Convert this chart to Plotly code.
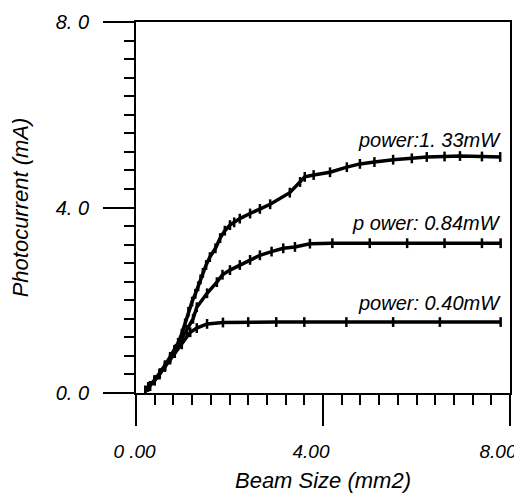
import plotly.graph_objects as go

# Beam size (mm2) and photocurrent (mA)
x_133 = [0.20, 0.26, 0.40, 0.51, 0.62, 0.73, 0.82, 0.90, 0.98, 1.05, 1.12, 1.20, 1.27, 1.33,
         1.38, 1.43, 1.50, 1.58, 1.70, 1.80, 1.90, 2.01, 2.10, 2.22, 2.44, 2.65, 2.87, 3.29,
         3.51, 3.61, 3.80, 4.15, 4.51, 4.79, 5.10, 5.50, 5.90, 6.22, 6.60, 6.93, 7.40, 7.79]
y_133 = [0.05, 0.13, 0.28, 0.43, 0.60, 0.78, 0.93, 1.08, 1.28, 1.50, 1.75, 1.97, 2.14, 2.30,
         2.45, 2.59, 2.76, 2.93, 3.12, 3.34, 3.50, 3.62, 3.68, 3.76, 3.87, 3.97, 4.07, 4.32,
         4.55, 4.66, 4.70, 4.76, 4.87, 4.94, 4.98, 5.03, 5.06, 5.09, 5.10, 5.11, 5.10, 5.09]

x_084 = [0.20, 0.30, 0.40, 0.50, 0.62, 0.73, 0.85, 0.95, 1.09, 1.22, 1.30, 1.52, 1.73, 1.85,
         2.01, 2.22, 2.44, 2.65, 2.90, 3.15, 3.40, 3.72, 4.20, 5.00, 5.80, 6.60, 7.40, 7.80]
y_084 = [0.05, 0.15, 0.27, 0.40, 0.58, 0.76, 0.95, 1.12, 1.36, 1.60, 1.85, 2.15, 2.39, 2.55,
         2.65, 2.76, 2.87, 2.97, 3.05, 3.12, 3.15, 3.22, 3.23, 3.23, 3.23, 3.23, 3.23, 3.23]

x_040 = [0.20, 0.30, 0.40, 0.50, 0.62, 0.73, 0.83, 0.98, 1.16, 1.30, 1.52, 1.86, 2.40, 3.00,
         3.60, 4.50, 5.50, 6.50, 7.80]
y_040 = [0.05, 0.15, 0.27, 0.40, 0.56, 0.72, 0.86, 1.05, 1.31, 1.40, 1.49, 1.52, 1.53, 1.53,
         1.53, 1.53, 1.53, 1.53, 1.53]

labels = ["power:1. 33mW", "p ower: 0.84mW", "power: 0.40mW"]
label_x = [7.86, 7.84, 7.84]
label_y = [5.45, 3.66, 1.94]

NB = "\u00a0"
x_tickvals = [0, 4, 8]
x_ticktext = [NB * 4 + "0 .00", "4.00", "8.00"]
y_tickvals = [0, 4, 8]
y_ticktext = ["0. 0", "4. 0", "8. 0"]

FONT = "Liberation Sans, Arial, sans-serif"

fig = go.Figure()
for xs, ys in [(x_133, y_133), (x_084, y_084), (x_040, y_040)]:
    fig.add_trace(go.Scatter(
        x=xs, y=ys, mode="lines+markers",
        line=dict(color="black", width=3.5),
        marker=dict(symbol="line-ns", size=7, color="black",
                    line=dict(color="black", width=2.5)),
        showlegend=False, hoverinfo="skip"))

for t, xa, ya in zip(labels, label_x, label_y):
    fig.add_annotation(x=xa, y=ya, xref="x", yref="y", text=t, showarrow=False,
                       xanchor="right", yanchor="middle",
                       font=dict(family=FONT, size=20, color="black", style="italic"))

axis_common = dict(
    showline=True, linecolor="black", linewidth=2, mirror=True,
    showgrid=False, zeroline=False,
    ticks="outside", ticklen=31, tickwidth=2, tickcolor="black",
    ticklabeloverflow="allow",
    minor=dict(ticks="outside", ticklen=10, tickwidth=2, tickcolor="black",
               dtick=0.4, tick0=0, showgrid=False),
)

fig.update_xaxes(range=[0, 8], tickmode="array", tickvals=x_tickvals, ticktext=x_ticktext,
                 ticklabelstandoff=9, ticklabelshift=-12,
                 tickfont=dict(family=FONT, size=19, color="black", style="italic"),
                 title=dict(text="Beam Size (mm2)", standoff=12,
                            font=dict(family=FONT, size=22, color="black", style="italic")),
                 **axis_common)
fig.update_yaxes(range=[0, 8], tickmode="array", tickvals=y_tickvals, ticktext=y_ticktext,
                 ticklabelstandoff=10,
                 tickfont=dict(family=FONT, size=20, color="black", style="italic"),
                 title=dict(text="Photocurrent (mA)", standoff=21,
                            font=dict(family=FONT, size=22, color="black", style="italic")),
                 **axis_common)

# the page body adds an 8px offset, so the figure is 8px smaller on each axis
fig.update_layout(
    width=514, height=489,
    margin=dict(l=128, r=12, t=14, b=104, autoexpand=False),
    paper_bgcolor="white", plot_bgcolor="white",
    font=dict(family=FONT, color="black"),
)

fig.write_html("out.html")
